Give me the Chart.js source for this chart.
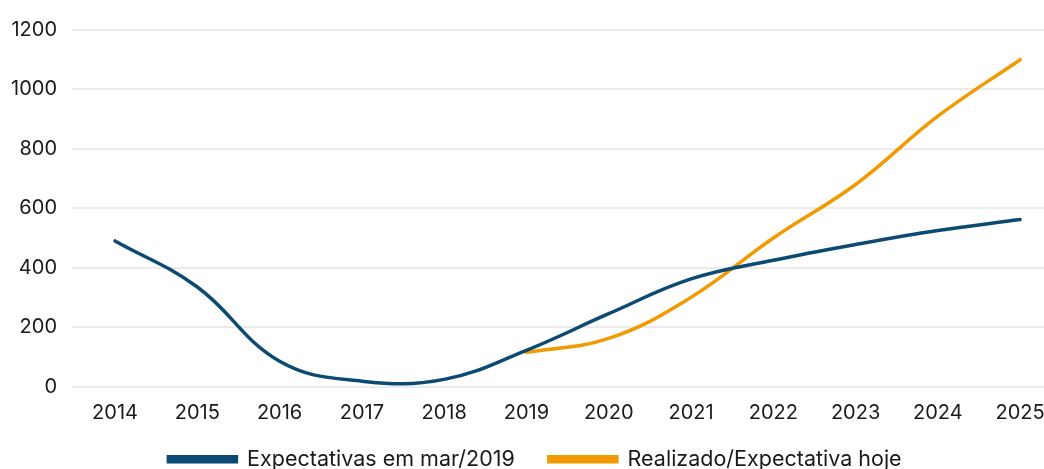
<!DOCTYPE html>
<html>
<head>
<meta charset="utf-8">
<script src="https://cdn.jsdelivr.net/npm/chart.js@4"></script>
<style>
html,body{margin:0;padding:0;background:#fff;}
#wrap{width:1044px;height:469px;position:relative;}
</style>
</head>
<body>
<div id="wrap"><canvas id="c"></canvas></div>
<script>
const years = [2014, 2015, 2016, 2017, 2018, 2019, 2020, 2021, 2022, 2023, 2024, 2025];
const expectativas = [490, 335, 85, 18, 24, 122, 245, 362, 425, 478, 525, 562];
const realizado = [null, null, null, null, null, 115, 162, 300, 500, 680, 910, 1100];
const yTicks = [0, 200, 400, 600, 800, 1000, 1200];
const seriesNames = ['Expectativas em mar/2019', 'Realizado/Expectativa hoje'];

const BLUE = '#0c4a73';
const ORANGE = '#f29a02';
const FONT = 'Inter';

function toPts(vals){
  return years.map((y,i)=>({x:y, y:vals[i]})).filter(p=>p.y!==null);
}

const legendShift = {
  id: 'legendShift',
  afterLayout(chart) {
    if (chart.legend) { chart.legend.left += 13; chart.legend.right += 13; }
  }
};

new Chart(document.getElementById('c'), {
  type: 'line',
  data: {
    datasets: [
      {label: seriesNames[0], data: toPts(expectativas), borderColor: BLUE, backgroundColor: BLUE,
       borderWidth: 3.5, pointRadius: 0, tension: 0.4, borderCapStyle: 'round'},
      {label: seriesNames[1], data: toPts(realizado), borderColor: ORANGE, backgroundColor: ORANGE,
       borderWidth: 3.5, pointRadius: 0, tension: 0.4, borderCapStyle: 'round'}
    ]
  },
  plugins: [legendShift],
  options: {
    responsive: true,
    maintainAspectRatio: false,
    animation: false,
    layout: {padding: {top: 30, right: 0, left: 0, bottom: -11}},
    plugins: {
      tooltip: {enabled: false},
      legend: {
        position: 'bottom',
        labels: {
          boxWidth: 68, boxHeight: 5, padding: 34,
          color: '#1a1a1a',
          font: {family: FONT, size: 21.5}
        }
      }
    },
    scales: {
      x: {
        type: 'linear',
        min: 2013.477, max: 2025.29,
        grid: {display: false, drawTicks: false},
        border: {display: false},
        afterBuildTicks: (ax) => { ax.ticks = years.map(v => ({value: v})); },
        afterFit: (ax) => {
          ax.height = 28; ax.paddingLeft = 0; ax.paddingRight = 0;
          ax._computeLabelArea = () => undefined;
        },
        ticks: {
          padding: 14, color: '#1a1a1a', maxRotation: 0, autoSkip: false,
          font: {family: FONT, size: 20},
          callback: (v) => String(v)
        }
      },
      y: {
        min: 0, max: 1200,
        afterBuildTicks: (ax) => { ax.ticks = yTicks.map(v => ({value: v})); },
        afterFit: (ax) => { ax.width = 72; },
        grid: {color: '#ebebeb', lineWidth: 2, drawTicks: false},
        border: {display: false},
        ticks: {
          padding: 15, color: '#1a1a1a',
          font: {family: FONT, size: 20},
          callback: (v) => String(v)
        }
      }
    }
  }
});
</script>
</body>
</html>
